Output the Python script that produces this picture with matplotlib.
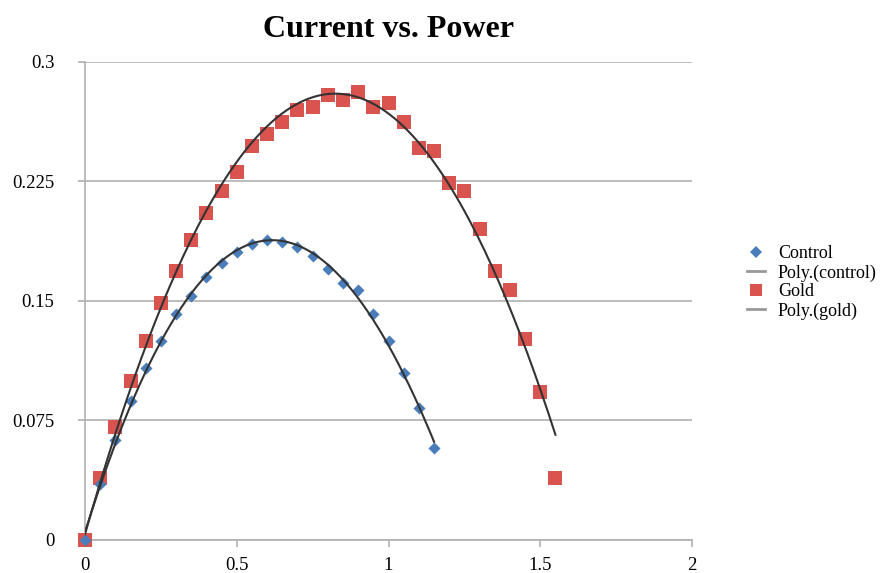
import numpy as np
import matplotlib.pyplot as plt
from matplotlib.lines import Line2D

# Datos (corriente vs. potencia)
control_x = [0, 0.05, 0.1, 0.15, 0.2, 0.25, 0.3, 0.35, 0.4, 0.45, 0.5, 0.55,
             0.6, 0.65, 0.7, 0.75, 0.8, 0.85, 0.9, 0.95, 1.0, 1.05, 1.1, 1.15]
control_y = [0, 0.035, 0.063, 0.087, 0.108, 0.125, 0.142, 0.153, 0.165, 0.174,
             0.181, 0.186, 0.188, 0.187, 0.184, 0.178, 0.170, 0.161, 0.157,
             0.142, 0.125, 0.105, 0.083, 0.058]

gold_x = [0, 0.05, 0.1, 0.15, 0.2, 0.25, 0.3, 0.35, 0.4, 0.45, 0.5, 0.55, 0.6,
          0.65, 0.7, 0.75, 0.8, 0.85, 0.9, 0.95, 1.0, 1.05, 1.1, 1.15, 1.2,
          1.25, 1.3, 1.35, 1.4, 1.45, 1.5, 1.55]
gold_y = [0, 0.039, 0.071, 0.100, 0.125, 0.149, 0.169, 0.188, 0.205, 0.219,
          0.231, 0.247, 0.255, 0.262, 0.270, 0.272, 0.279, 0.276, 0.281, 0.272,
          0.274, 0.262, 0.246, 0.244, 0.224, 0.219, 0.195, 0.169, 0.157, 0.126,
          0.093, 0.039]

x_ticks = [0, 0.5, 1, 1.5, 2]
x_labels = ['0', '0.5', '1', '1.5', '2']
y_ticks = [0, 0.075, 0.15, 0.225, 0.3]
y_labels = ['0', '0.075', '0.15', '0.225', '0.3']

plt.rcParams['font.family'] = ['Liberation Serif', 'DejaVu Serif']

fig = plt.figure(figsize=(8.81, 5.73), dpi=100)
ax = fig.add_axes([0.0965, 0.0576, 0.6890, 0.8343])

# Líneas de tendencia polinómicas
xc = np.linspace(min(control_x), max(control_x), 200)
pc = np.polyfit(control_x, control_y, 3)
xg = np.linspace(min(gold_x), max(gold_x), 200)
pg = np.polyfit(gold_x, gold_y, 2)

ax.scatter(gold_x, gold_y, marker='s', s=95, color='#d9534f', zorder=3,
           linewidths=0, clip_on=False)
ax.scatter(control_x, control_y, marker='D', s=38, color='#4a7ebb', zorder=3,
           linewidths=0, clip_on=False)
ax.plot(xc, np.polyval(pc, xc), color='#333333', lw=1.5, zorder=4)
ax.plot(xg, np.polyval(pg, xg), color='#333333', lw=1.5, zorder=4)

ax.set_xlim(0, 2)
ax.set_ylim(0, 0.3)
ax.set_xticks(x_ticks)
ax.set_xticklabels(x_labels)
ax.set_yticks(y_ticks)
ax.set_yticklabels(y_labels)
ax.yaxis.grid(True, color='#b0b0b0', lw=1.2)
ax.set_axisbelow(True)
for s in ['top', 'right']:
    ax.spines[s].set_visible(False)
for s in ['left', 'bottom']:
    ax.spines[s].set_color('#b0b0b0')
    ax.spines[s].set_linewidth(1.2)
ax.tick_params(axis='both', colors='#b0b0b0', labelcolor='black',
               labelsize=13.5, length=5, width=1.2)
ax.tick_params(axis='y', pad=17)
ax.tick_params(axis='x', pad=7)

ax.set_title('Current vs. Power', fontsize=23, fontweight='bold', pad=18)

handles = [
    Line2D([], [], ls='none', marker='D', ms=6, color='#4a7ebb', mew=0),
    Line2D([], [], color='#999999', lw=2),
    Line2D([], [], ls='none', marker='s', ms=9, color='#d9534f', mew=0),
    Line2D([], [], color='#999999', lw=2),
]
labels = ['Control', 'Poly.(control)', 'Gold', 'Poly.(gold)']
fig.legend(handles, labels, loc='center left', bbox_to_anchor=(0.848, 0.507),
           frameon=False, fontsize=13, handlelength=1.0, handletextpad=0.7,
           labelspacing=0.1, borderaxespad=0, borderpad=0)

plt.savefig('out.png', dpi=100)
